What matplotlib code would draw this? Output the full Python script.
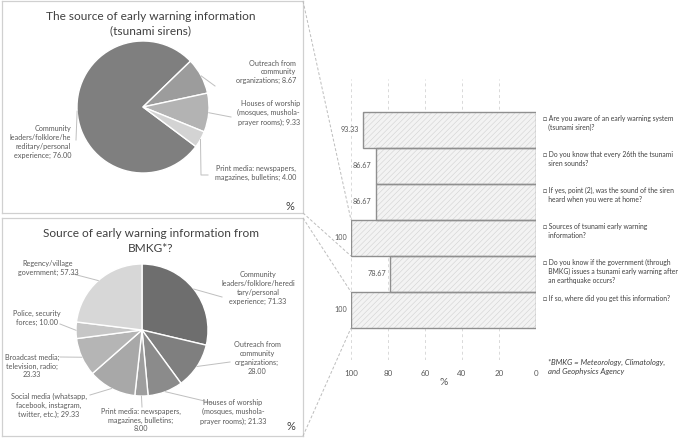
import matplotlib.pyplot as plt
from matplotlib.lines import Line2D
import numpy as np

plt.rcParams['font.family'] = ['Lato', 'DejaVu Sans']
plt.rcParams['hatch.linewidth'] = 0.4

W, H = 685, 438

# top pie: sources of siren information
siren_names = ["Community\nleaders/folklore/he\nreditary/personal\nexperience; {:.2f}",
               "Outreach from\ncommunity\norganizations; {:.2f}",
               "Houses of worship\n(mosques, mushola-\nprayer rooms); {:.2f}",
               "Print media: newspapers,\nmagazines, bulletins; {:.2f}"]
siren_vals = [76.00, 8.67, 9.33, 4.00]
siren_colors = ['#7f7f7f', '#9c9c9c', '#b3b3b3', '#d3d3d3']

# bottom pie: sources of BMKG information
bmkg_names = ["Community\nleaders/folklore/heredi\ntary/personal\nexperience; {:.2f}",
              "Outreach from\ncommunity\norganizations;\n{:.2f}",
              "Houses of worship\n(mosques, mushola-\nprayer rooms); {:.2f}",
              "Print media: newspapers,\nmagazines, bulletins;\n{:.2f}",
              "Social media (whatsapp,\nfacebook, instagram,\ntwitter, etc.); {:.2f}",
              "Broadcast media;\ntelevision, radio;\n{:.2f}",
              "Police, security\nforces; {:.2f}",
              "Regency/village\ngovernment; {:.2f}"]
bmkg_vals = [71.33, 28.00, 21.33, 8.00, 29.33, 23.33, 10.00, 57.33]
bmkg_colors = ['#6e6e6e', '#7f7f7f', '#8b8b8b', '#9e9e9e', '#a8a8a8', '#b5b5b5', '#c6c6c6', '#d7d7d7']

# bar chart: questions
questions = ["Are you aware of an early warning system\n   (tsunami siren)?",
             "Do you know that every 26th the tsunami\n   siren sounds?",
             "If yes, point (2), was the sound of the siren\n   heard when you were at home?",
             "Sources of tsunami early warning\n   information?",
             "Do you know if the government (through\n   BMKG) issues a tsunami early warning after\n   an earthquake occurs?",
             "If so, where did you get this information?"]
answers = [93.33, 86.67, 86.67, 100, 78.67, 100]


def rect(x0, y0, x1, y1):
    return [x0 / W, 1 - y1 / H, (x1 - x0) / W, (y1 - y0) / H]


def box_axes(x0, y0, x1, y1):
    ax = fig.add_axes(rect(x0, y0, x1, y1))
    ax.set_xlim(x0, x1)
    ax.set_ylim(H - y1, H - y0)
    ax.set_xticks([])
    ax.set_yticks([])
    for s in ax.spines.values():
        s.set_color('#d0d0d0')
        s.set_linewidth(0.9)
    return ax


def draw_pie(ax, vals, names, colors, cx, cy, start, label_pos, aligns, leader_ends):
    wedges, _ = ax.pie(vals, colors=colors, center=(cx, H - cy), radius=66,
                       startangle=start, counterclock=False, frame=True,
                       wedgeprops=dict(edgecolor='white', linewidth=1.0))
    for w, name, v, (lx, ly), ha, ends in zip(wedges, names, vals, label_pos, aligns, leader_ends):
        mid = np.deg2rad((w.theta1 + w.theta2) / 2)
        px = [w.center[0] + w.r * np.cos(mid)] + [e[0] for e in ends]
        py = [w.center[1] + w.r * np.sin(mid)] + [H - e[1] for e in ends]
        ax.plot(px, py, color='#bfbfbf', lw=0.7)
        ax.text(lx, H - ly, name.format(v), ha=ha, va='center', multialignment=ha,
                fontsize=5.2, color='#595959', linespacing=1.3)


fig = plt.figure(figsize=(W / 100, H / 100), dpi=100)

# top box
ax1 = box_axes(2, 1, 303, 213)
ax1.text(151, H - 24, "The source of early warning information\n(tsunami sirens)",
         ha='center', va='center', fontsize=8.6, color='#404040', linespacing=1.35)
draw_pie(ax1, siren_vals, siren_names, siren_colors, 143, 107, -36.8,
         [(71, 142), (296, 72), (300, 113), (296, 173)],
         ['right', 'right', 'right', 'right'],
         [[(76, 140)], [(215, 86)], [(231, 117)], [(201, 175), (208, 175)]])
ax1.set_xlim(2, 303)
ax1.set_ylim(H - 213, H - 1)
ax1.text(290, H - 206, "%", ha='center', va='center', fontsize=8, color='#404040')

# bottom box
ax2 = box_axes(2, 218, 303, 436)
ax2.text(151, H - 241, "Source of early warning information from\nBMKG*?",
         ha='center', va='center', fontsize=8.6, color='#404040', linespacing=1.35)
draw_pie(ax2, bmkg_vals, bmkg_names, bmkg_colors, 142, 330, 90,
         [(258, 288), (257, 358), (233, 412), (141, 420), (49, 405), (32, 366), (37, 318), (48, 268)],
         ['center'] * 8,
         [[(222, 297)], [(230, 362)], [(213, 403)], [(142, 407)], [(90, 395)],
          [(60, 357)], [(60, 324)], [(73, 274)]])
ax2.set_xlim(2, 303)
ax2.set_ylim(H - 436, H - 218)
ax2.text(291, H - 427, "%", ha='center', va='center', fontsize=8, color='#404040')

# bar chart
ax3 = fig.add_axes(rect(351, 79, 536, 360))
y = np.arange(len(answers))
ax3.barh(y, answers, height=1.0, color='#f3f3f3', edgecolor='#d2d2d2', hatch='//////', linewidth=0)
bars = ax3.barh(y, answers, height=1.0, fill=False, edgecolor='#8f8f8f', linewidth=1.0)
for b, v in zip(bars, answers):
    ax3.annotate(f"{v:g}", (b.get_width(), b.get_y() + b.get_height() / 2),
                 xytext=(-3, 0), textcoords='offset points', ha='right', va='center',
                 fontsize=5.2, color='#595959')
ax3.set_xlim(100, 0)
ax3.set_ylim(5.5 + 32 / 36, -0.5 - 33 / 36)
ax3.set_xticks([100, 80, 60, 40, 20, 0])
ax3.set_yticks([])
ax3.tick_params(axis='x', length=0, pad=7, labelsize=5.8, labelcolor='#595959')
ax3.grid(axis='x', color='#d9d9d9', linestyle=(0, (3, 3)), linewidth=0.7)
ax3.set_axisbelow(True)
for s in ax3.spines.values():
    s.set_visible(False)
ax3.set_xlabel('%', fontsize=7.5, color='#595959', labelpad=1)

for i, q in enumerate(questions):
    ax3.text(-3.6, i - 0.5 + 0.08, "\u25a1 " + q, ha='left', va='top', fontsize=4.9,
             color='#404040', linespacing=1.35, clip_on=False)

fig.text(548 / W, 1 - 367 / H, "*BMKG = Meteorology, Climatology,\nand Geophysics Agency",
         ha='left', va='center', fontsize=5.6, style='italic', color='#404040', linespacing=1.3)

# dashed connectors from the boxes to the matching bars
inv = fig.transFigure.inverted()
conn = [((303, 1), (100, 2.5)), ((303, 213), (100, 3.5)),
        ((303, 218), (100, 4.5)), ((303, 436), (100, 5.5))]
for (bx, by), bar_pt in conn:
    p0 = (bx / W, 1 - by / H)
    p1 = inv.transform(ax3.transData.transform(bar_pt))
    fig.add_artist(Line2D([p0[0], p1[0]], [p0[1], p1[1]], color='#bdbdbd', lw=0.7,
                          linestyle=(0, (3, 2))))

fig.savefig('out.png', dpi=100)
